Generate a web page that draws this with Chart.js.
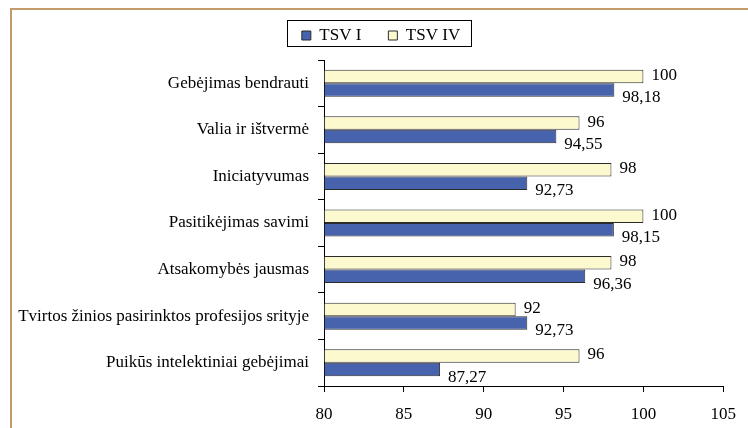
<!DOCTYPE html>
<html>
<head>
<meta charset="utf-8">
<script src="https://cdn.jsdelivr.net/npm/chart.js@4"></script>
<style>
  html, body { margin: 0; padding: 0; background: #fff; }
  #wrap { position: relative; width: 748px; height: 428px; }
  #frame { position: absolute; left: 10px; top: 8px; right: 0; bottom: 0;
           border-top: 2px solid #c29b6c; border-left: 2px solid #c29b6c; }
  canvas { position: absolute; left: 0; top: 0; }
</style>
</head>
<body>
<div id="wrap">
  <div id="frame"></div>
  <canvas id="chart" width="748" height="428"></canvas>
</div>
<script>
const categories = [
  'Gebėjimas bendrauti',
  'Valia ir ištvermė',
  'Iniciatyvumas',
  'Pasitikėjimas savimi',
  'Atsakomybės jausmas',
  'Tvirtos žinios pasirinktos profesijos srityje',
  'Puikūs intelektiniai gebėjimai'
];
const tsvI = [98.18, 94.55, 92.73, 98.15, 96.36, 92.73, 87.27];
const tsvIV = [100, 96, 98, 100, 98, 92, 96];
const xTicks = [80, 85, 90, 95, 100, 105];

const FONT = { family: '"Liberation Serif", "Times New Roman", serif', size: 17 };
const LEGEND_SHIFT = 11;

// value labels to the right of each bar, decimal comma
const valueLabels = {
  id: 'valueLabels',
  afterDatasetsDraw(chart) {
    const ctx = chart.ctx;
    ctx.save();
    ctx.font = `${FONT.size}px ${FONT.family}`;
    ctx.fillStyle = '#000';
    ctx.textAlign = 'left';
    ctx.textBaseline = 'middle';
    chart.data.datasets.forEach((ds, di) => {
      chart.getDatasetMeta(di).data.forEach((bar, i) => {
        const txt = String(ds.data[i]).replace('.', ',');
        const y = di === 0 ? bar.y - 1 : bar.y + bar.height / 2 + 1;
        ctx.fillText(txt, bar.x + 8, y);
      });
    });
    ctx.restore();
  }
};

// fix legend height, nudge it right and put a frame round it
const legendFrame = {
  id: 'legendFrame',
  beforeInit(chart) {
    const fit = chart.legend.fit;
    chart.legend.fit = function () { fit.call(this); this.height = 60; };
  },
  afterUpdate(chart) {
    const lg = chart.legend;
    lg.left += LEGEND_SHIFT;
    lg.right += LEGEND_SHIFT;
    (lg.legendHitBoxes || []).forEach(h => { h.left += LEGEND_SHIFT; });
  },
  afterDraw(chart) {
    const hb = chart.legend.legendHitBoxes;
    if (!hb || !hb.length) return;
    const first = hb[0], last = hb[hb.length - 1];
    const ctx = chart.ctx;
    ctx.save();
    ctx.strokeStyle = '#000';
    ctx.lineWidth = 1;
    const l = Math.round(first.left - 15) + 0.5;
    const r = Math.round(last.left + last.width + 11) + 0.5;
    const t = Math.round(first.top - 7) + 0.5;
    const b = Math.round(first.top + first.height + 2) + 0.5;
    ctx.strokeRect(l, t, r - l, b - t);
    ctx.restore();
  }
};

new Chart(document.getElementById('chart'), {
  type: 'bar',
  data: {
    labels: categories,
    datasets: [
      { label: 'TSV IV', data: tsvIV, base: 80, backgroundColor: '#fcf9cf', borderColor: '#2b2b2b', borderWidth: 1 },
      { label: 'TSV I', data: tsvI, base: 80, backgroundColor: '#4763ae', borderColor: '#2b2b2b', borderWidth: 1 }
    ]
  },
  options: {
    indexAxis: 'y',
    responsive: false,
    animation: false,
    categoryPercentage: 0.58,
    barPercentage: 1.0,
    layout: { padding: { left: 12, right: 20, top: 0, bottom: 0 } },
    plugins: {
      legend: {
        display: true,
        reverse: true,
        labels: { font: FONT, color: '#000', boxWidth: 9, boxHeight: 9, padding: 27 }
      },
      tooltip: { enabled: false }
    },
    scales: {
      x: {
        type: 'linear',
        min: 80, max: 105,
        afterBuildTicks(scale) { scale.ticks = xTicks.map(v => ({ value: v })); },
        afterFit(scale) { scale.height = 42; },
        border: { display: true, color: '#000', width: 1 },
        grid: { drawOnChartArea: false, drawTicks: true, tickLength: 6, color: '#000' },
        ticks: { font: FONT, color: '#000', padding: 12 }
      },
      y: {
        afterFit(scale) { scale.width = 312; },
        border: { display: true, color: '#000', width: 1 },
        grid: { drawOnChartArea: false, drawTicks: true, tickLength: 6, color: '#000', offset: true },
        ticks: { font: FONT, color: '#000', padding: 9 }
      }
    }
  },
  plugins: [valueLabels, legendFrame]
});
</script>
</body>
</html>
